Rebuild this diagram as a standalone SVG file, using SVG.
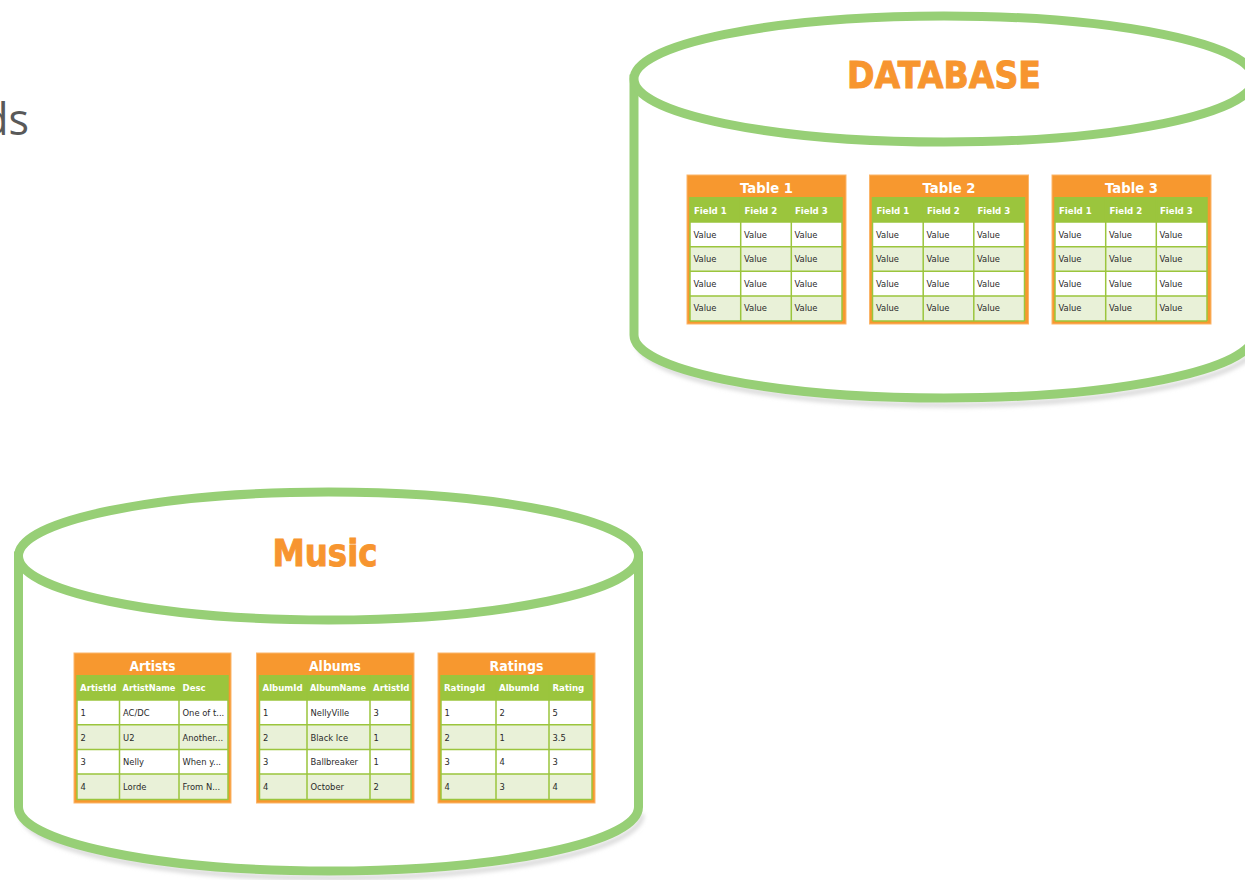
<svg xmlns="http://www.w3.org/2000/svg" width="1245" height="880" viewBox="0 0 1245 880">
  <defs>
    <style>
      .cyl { fill: #ffffff; stroke: #97cf76; stroke-width: 9; }
      .shadow { fill: none; stroke: #d9d9d9; stroke-width: 5; filter: url(#soft); }
      .big { font-family: "DejaVu Sans", Verdana, sans-serif; font-weight: bold; font-size: 38px; fill: #f7952f; stroke: #f7952f; stroke-width: 1; text-anchor: middle; }
      .frame { fill: #f7982f; stroke: #fbb56a; stroke-width: 1; }
      .grid { fill: #ffffff; }
      .fieldrow { fill: #9bc53d; }
      .alt { fill: #e9f1d8; }
      .gl { stroke: #9bc53d; stroke-width: 1.5; fill: none; }
      .title { font-family: "DejaVu Sans", Verdana, sans-serif; font-weight: bold; font-size: 13.5px; fill: #ffffff; text-anchor: middle; }
      .fld { font-family: "DejaVu Sans", Verdana, sans-serif; font-weight: bold; font-size: 8.6px; fill: #ffffff; }
      .val { font-family: "DejaVu Sans", Verdana, sans-serif; font-size: 8.4px; fill: #2a2a2a; }
      .side { font-family: "Open Sans", "Noto Sans", sans-serif; font-size: 43px; fill: #595959; text-anchor: end; }
    </style>
    <filter id="soft" x="-5%" y="-20%" width="110%" height="140%">
      <feGaussianBlur stdDeviation="2"/>
    </filter>
  </defs>

  <rect width="1245" height="880" fill="#ffffff"/>

  <!-- clipped slide heading on the left -->
  <text class="side" x="29" y="135">ds</text>

  <!-- DATABASE cylinder -->
  <g id="database">
    <path class="shadow" d="M 638 342 A 310 63 0 0 0 1258 342"/>
    <path class="cyl" d="M 634 79 L 634 335 A 310 63 0 0 0 1254 335 L 1254 79 Z"/>
    <ellipse class="cyl" cx="944" cy="79" rx="310" ry="63"/>
    <text class="big" x="944" y="88" textLength="194" lengthAdjust="spacingAndGlyphs">DATABASE</text>
  </g>

  <!-- Table 1 -->
  <g id="table1" transform="translate(0,0)">
    <rect class="frame" x="687" y="175" width="159" height="149"/>
    <rect class="grid" x="690" y="197" width="152" height="124"/>
    <rect class="fieldrow" x="690" y="197" width="152" height="25"/>
    <rect class="alt" x="690" y="246.7" width="152" height="24.6"/>
    <rect class="alt" x="690" y="296" width="152" height="25"/>
    <path class="gl" d="M690 197 V321 M740.7 197 V321 M791.3 197 V321 M842 197 V321 M690 222 H842 M690 246.7 H842 M690 271.3 H842 M690 296 H842 M690 321 H842"/>
    <text class="title" x="766.5" y="193" textLength="53" lengthAdjust="spacingAndGlyphs">Table 1</text>
    <text class="fld" x="694" y="213.5">Field 1</text>
    <text class="fld" x="744.5" y="213.5">Field 2</text>
    <text class="fld" x="795" y="213.5">Field 3</text>
    <g class="val">
      <text x="693.5" y="237.5">Value</text><text x="744" y="237.5">Value</text><text x="794.5" y="237.5">Value</text>
      <text x="693.5" y="262">Value</text><text x="744" y="262">Value</text><text x="794.5" y="262">Value</text>
      <text x="693.5" y="286.5">Value</text><text x="744" y="286.5">Value</text><text x="794.5" y="286.5">Value</text>
      <text x="693.5" y="311">Value</text><text x="744" y="311">Value</text><text x="794.5" y="311">Value</text>
    </g>
  </g>

  <!-- Table 2 -->
  <g id="table2" transform="translate(182.5,0)">
    <rect class="frame" x="687" y="175" width="159" height="149"/>
    <rect class="grid" x="690" y="197" width="152" height="124"/>
    <rect class="fieldrow" x="690" y="197" width="152" height="25"/>
    <rect class="alt" x="690" y="246.7" width="152" height="24.6"/>
    <rect class="alt" x="690" y="296" width="152" height="25"/>
    <path class="gl" d="M690 197 V321 M740.7 197 V321 M791.3 197 V321 M842 197 V321 M690 222 H842 M690 246.7 H842 M690 271.3 H842 M690 296 H842 M690 321 H842"/>
    <text class="title" x="766.5" y="193" textLength="53" lengthAdjust="spacingAndGlyphs">Table 2</text>
    <text class="fld" x="694" y="213.5">Field 1</text>
    <text class="fld" x="744.5" y="213.5">Field 2</text>
    <text class="fld" x="795" y="213.5">Field 3</text>
    <g class="val">
      <text x="693.5" y="237.5">Value</text><text x="744" y="237.5">Value</text><text x="794.5" y="237.5">Value</text>
      <text x="693.5" y="262">Value</text><text x="744" y="262">Value</text><text x="794.5" y="262">Value</text>
      <text x="693.5" y="286.5">Value</text><text x="744" y="286.5">Value</text><text x="794.5" y="286.5">Value</text>
      <text x="693.5" y="311">Value</text><text x="744" y="311">Value</text><text x="794.5" y="311">Value</text>
    </g>
  </g>

  <!-- Table 3 -->
  <g id="table3" transform="translate(365,0)">
    <rect class="frame" x="687" y="175" width="159" height="149"/>
    <rect class="grid" x="690" y="197" width="152" height="124"/>
    <rect class="fieldrow" x="690" y="197" width="152" height="25"/>
    <rect class="alt" x="690" y="246.7" width="152" height="24.6"/>
    <rect class="alt" x="690" y="296" width="152" height="25"/>
    <path class="gl" d="M690 197 V321 M740.7 197 V321 M791.3 197 V321 M842 197 V321 M690 222 H842 M690 246.7 H842 M690 271.3 H842 M690 296 H842 M690 321 H842"/>
    <text class="title" x="766.5" y="193" textLength="53" lengthAdjust="spacingAndGlyphs">Table 3</text>
    <text class="fld" x="694" y="213.5">Field 1</text>
    <text class="fld" x="744.5" y="213.5">Field 2</text>
    <text class="fld" x="795" y="213.5">Field 3</text>
    <g class="val">
      <text x="693.5" y="237.5">Value</text><text x="744" y="237.5">Value</text><text x="794.5" y="237.5">Value</text>
      <text x="693.5" y="262">Value</text><text x="744" y="262">Value</text><text x="794.5" y="262">Value</text>
      <text x="693.5" y="286.5">Value</text><text x="744" y="286.5">Value</text><text x="794.5" y="286.5">Value</text>
      <text x="693.5" y="311">Value</text><text x="744" y="311">Value</text><text x="794.5" y="311">Value</text>
    </g>
  </g>

  <!-- Music cylinder -->
  <g id="music">
    <path class="shadow" d="M 22 814 A 310 64 0 0 0 642 814"/>
    <path class="cyl" d="M 18.5 556 L 18.5 807 A 310 64 0 0 0 638.5 807 L 638.5 556 Z"/>
    <ellipse class="cyl" cx="328.5" cy="556" rx="310" ry="64"/>
    <text class="big" x="325" y="566" textLength="105" lengthAdjust="spacingAndGlyphs">Music</text>
  </g>

  <!-- Artists table -->
  <g id="artists">
    <rect class="frame" x="74" y="653" width="157" height="150"/>
    <rect class="grid" x="77" y="675" width="151" height="125"/>
    <rect class="fieldrow" x="77" y="675" width="151" height="25"/>
    <rect class="alt" x="77" y="724.7" width="151" height="24.7"/>
    <rect class="alt" x="77" y="774.1" width="151" height="25.9"/>
    <path class="gl" d="M77 675 V800 M119.5 675 V800 M179 675 V800 M228 675 V800 M77 700 H228 M77 724.7 H228 M77 749.4 H228 M77 774.1 H228 M77 799.5 H228"/>
    <text class="title" x="152.5" y="670.5" textLength="46" lengthAdjust="spacingAndGlyphs">Artists</text>
    <text class="fld" x="80" y="691">ArtistId</text>
    <text class="fld" x="122.5" y="691" textLength="53" lengthAdjust="spacingAndGlyphs">ArtistName</text>
    <text class="fld" x="182.5" y="691">Desc</text>
    <g class="val">
      <text x="80.5" y="716">1</text><text x="123" y="716">AC/DC</text><text x="182.5" y="716">One of t...</text>
      <text x="80.5" y="740.5">2</text><text x="123" y="740.5">U2</text><text x="182.5" y="740.5">Another...</text>
      <text x="80.5" y="765">3</text><text x="123" y="765">Nelly</text><text x="182.5" y="765">When y...</text>
      <text x="80.5" y="790">4</text><text x="123" y="790">Lorde</text><text x="182.5" y="790">From N...</text>
    </g>
  </g>

  <!-- Albums table -->
  <g id="albums">
    <rect class="frame" x="256.5" y="653" width="157.5" height="150"/>
    <rect class="grid" x="259.5" y="675" width="151.5" height="125"/>
    <rect class="fieldrow" x="259.5" y="675" width="151.5" height="25"/>
    <rect class="alt" x="259.5" y="724.7" width="151.5" height="24.7"/>
    <rect class="alt" x="259.5" y="774.1" width="151.5" height="25.9"/>
    <path class="gl" d="M259.5 675 V800 M307 675 V800 M370 675 V800 M411 675 V800 M259.5 700 H411 M259.5 724.7 H411 M259.5 749.4 H411 M259.5 774.1 H411 M259.5 799.5 H411"/>
    <text class="title" x="335" y="670.5" textLength="52" lengthAdjust="spacingAndGlyphs">Albums</text>
    <text class="fld" x="262.5" y="691">AlbumId</text>
    <text class="fld" x="310" y="691" textLength="56" lengthAdjust="spacingAndGlyphs">AlbumName</text>
    <text class="fld" x="373" y="691">ArtistId</text>
    <g class="val">
      <text x="263" y="716">1</text><text x="310.5" y="716">NellyVille</text><text x="373.5" y="716">3</text>
      <text x="263" y="740.5">2</text><text x="310.5" y="740.5">Black Ice</text><text x="373.5" y="740.5">1</text>
      <text x="263" y="765">3</text><text x="310.5" y="765">Ballbreaker</text><text x="373.5" y="765">1</text>
      <text x="263" y="790">4</text><text x="310.5" y="790">October</text><text x="373.5" y="790">2</text>
    </g>
  </g>

  <!-- Ratings table -->
  <g id="ratings">
    <rect class="frame" x="438" y="653" width="157" height="150"/>
    <rect class="grid" x="441" y="675" width="151" height="125"/>
    <rect class="fieldrow" x="441" y="675" width="151" height="25"/>
    <rect class="alt" x="441" y="724.7" width="151" height="24.7"/>
    <rect class="alt" x="441" y="774.1" width="151" height="25.9"/>
    <path class="gl" d="M441 675 V800 M496 675 V800 M549 675 V800 M592 675 V800 M441 700 H592 M441 724.7 H592 M441 749.4 H592 M441 774.1 H592 M441 799.5 H592"/>
    <text class="title" x="516.5" y="670.5" textLength="54" lengthAdjust="spacingAndGlyphs">Ratings</text>
    <text class="fld" x="444" y="691">RatingId</text>
    <text class="fld" x="499" y="691">AlbumId</text>
    <text class="fld" x="552.5" y="691">Rating</text>
    <g class="val">
      <text x="444.5" y="716">1</text><text x="499.5" y="716">2</text><text x="552.5" y="716">5</text>
      <text x="444.5" y="740.5">2</text><text x="499.5" y="740.5">1</text><text x="552.5" y="740.5">3.5</text>
      <text x="444.5" y="765">3</text><text x="499.5" y="765">4</text><text x="552.5" y="765">3</text>
      <text x="444.5" y="790">4</text><text x="499.5" y="790">3</text><text x="552.5" y="790">4</text>
    </g>
  </g>
</svg>
